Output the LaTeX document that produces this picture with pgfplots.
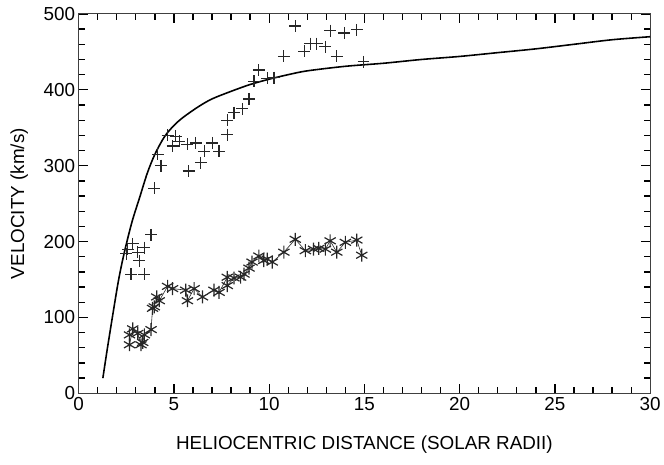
\documentclass[border=0pt]{standalone}
\usepackage{pgfplots}
\pgfplotsset{compat=1.18}
\usepackage{fontspec}
\setmainfont{Liberation Sans}
\begin{document}
\begin{tikzpicture}
\begin{axis}[
  scale only axis,
  width=574bp, height=381bp,
  xmin=0, xmax=30, ymin=0, ymax=500,
  xtick={0,5,10,15,20,25,30}, ytick={0,100,200,300,400,500},
  minor x tick num=4, minor y tick num=4,
  major tick length=9bp, minor tick length=6bp,
  every tick/.style={line width=1.3pt, black},
  axis line style={line width=1.1pt, black!75},
  /pgf/number format/assume math mode=true,
  tick label style={font=\fontsize{19}{22}\selectfont},
  label style={font=\fontsize{19}{22}\selectfont},
  xticklabel style={yshift=-1bp},
  xlabel={HELIOCENTRIC DISTANCE (SOLAR RADII)},
  ylabel={VELOCITY (km/s)},
  xlabel style={yshift=-18bp},
  ylabel style={yshift=9bp},
  clip=false,
]
\addplot[black, line width=1.6pt, smooth, tension=0.5] coordinates {
(1.27,20) (1.5,58) (1.8,105) (2.1,150) (2.4,186) (2.8,226) (3.2,258) (3.6,290)
(4.0,315) (4.5,338) (5.0,353) (5.5,364) (6.3,378) (7.0,388) (8.0,398) (9.0,407)
(10,414) (11,420) (12,425) (14,431) (16,435) (18,440) (20,444) (22,449)
(24,454) (26,460) (28,466) (30,470)};
\addplot[only marks, mark=+, mark size=6bp, line width=1.2pt, black!85] coordinates {
(2.49,184) (2.58,190) (2.75,157) (2.84,197) (3.1,186) (3.19,175) (3.45,192)
(3.45,157) (3.8,209) (3.97,270) (4.15,315) (4.32,300) (4.67,340) (4.93,326)
(5.1,339) (5.28,332) (5.71,328) (5.77,293) (6.15,330) (6.41,304) (6.59,319)
(7.02,330) (7.37,319) (7.8,341) (7.8,360) (8.15,370) (8.59,375) (8.94,388)
(9.2,411) (9.46,426) (9.9,415) (10.25,416) (10.77,444) (11.37,484) (11.85,451)
(12.16,461) (12.5,461) (12.95,457) (13.2,478) (13.55,444) (13.95,475)
(14.6,479) (14.95,437)};
\addplot[black!85, line width=0.6pt, mark=asterisk, mark size=6.5bp,
  mark options={line width=1.2pt}] coordinates {
(2.67,77) (2.67,64) (2.84,85) (3.1,79) (3.27,64) (3.36,67) (3.45,77) (3.8,84)
(3.88,112) (3.97,114) (4.1,127) (4.23,122) (4.67,141) (4.93,138) (5.62,136)
(5.71,122) (6.06,138) (6.5,127) (7.1,136) (7.37,133) (7.8,153) (7.8,142)
(8.15,152) (8.5,153) (8.68,157) (8.94,165) (9.1,173) (9.46,181) (9.72,175)
(9.9,177) (10.16,173) (10.77,186) (11.37,203) (11.9,188) (12.33,190)
(12.6,191) (12.95,190) (13.2,201) (13.55,186) (14.0,199) (14.6,202) (14.86,182)};
\pgfplotsinvokeforeach{1,2,3,4,6,7,8,9,11,12,13,14,16,17,18,19,21,22,23,24,26,27,28,29}{
  \draw[line width=1.3pt, black] (axis cs:#1,0) -- (axis cs:#1,8);
  \draw[line width=1.3pt, black] (axis cs:#1,500) -- (axis cs:#1,492);
}
\pgfplotsinvokeforeach{5,10,15,20,25}{
  \draw[line width=1.3pt, black] (axis cs:#1,0) -- (axis cs:#1,12);
  \draw[line width=1.3pt, black] (axis cs:#1,500) -- (axis cs:#1,488);
}
\pgfplotsinvokeforeach{20,40,60,80,120,140,160,180,220,240,260,280,320,340,360,380,420,440,460,480}{
  \draw[line width=1.3pt, black] (axis cs:0,#1) -- (axis cs:0.32,#1);
  \draw[line width=1.3pt, black] (axis cs:30,#1) -- (axis cs:29.68,#1);
}
\pgfplotsinvokeforeach{100,200,300,400}{
  \draw[line width=1.3pt, black] (axis cs:0,#1) -- (axis cs:0.48,#1);
  \draw[line width=1.3pt, black] (axis cs:30,#1) -- (axis cs:29.52,#1);
}
\end{axis}
\path (current axis.south west) ++(-79bp,-71bp) rectangle ++(664bp,466bp);
\end{tikzpicture}
\end{document}
